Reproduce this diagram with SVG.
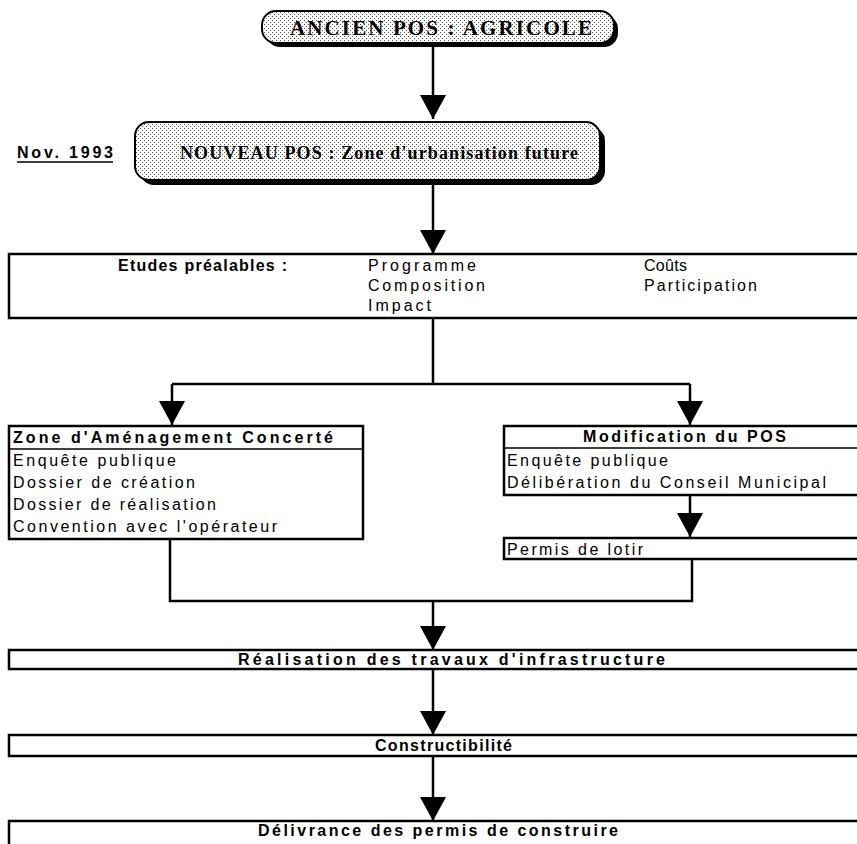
<svg xmlns="http://www.w3.org/2000/svg" width="857" height="844" viewBox="0 0 857 844">
<defs>
<pattern id="dots" width="4" height="4" patternUnits="userSpaceOnUse">
<rect width="4" height="4" fill="#ffffff"/>
<rect x="0" y="0" width="1" height="1" fill="#555"/>
<rect x="2" y="2" width="1" height="1" fill="#555"/>
</pattern>
<marker id="ah" markerWidth="24" markerHeight="26" refX="24" refY="13" orient="auto" markerUnits="userSpaceOnUse" viewBox="0 0 24 26">
<path d="M0,0 L24,13 L0,26 Z" fill="#000"/>
</marker>
</defs>
<style>
.box{fill:#fff;stroke:#000;stroke-width:2.5}
.pill{fill:url(#dots);stroke:#000;stroke-width:2}
.sh{fill:#000}
.ln{fill:none;stroke:#000;stroke-width:2.5}
.t{font-family:"Liberation Sans",Arial,sans-serif;font-size:16px;fill:#000}
.b{font-weight:bold}
.s{font-family:"Liberation Serif","Times New Roman",serif;font-size:21px;font-weight:bold;fill:#000}
.s2{font-size:18px}
</style>

<g id="connectors">
<path class="ln" d="M433,46 V119" marker-end="url(#ah)"/>
<path class="ln" d="M433,184 V254" marker-end="url(#ah)"/>
<path class="ln" d="M433,318 V384 M172,384 H690"/>
<path class="ln" d="M172,384 V425" marker-end="url(#ah)"/>
<path class="ln" d="M690,384 V425" marker-end="url(#ah)"/>
<path class="ln" d="M690,495 V537" marker-end="url(#ah)"/>
<path class="ln" d="M170,539 V601 H692 V559"/>
<path class="ln" d="M433,601 V650" marker-end="url(#ah)"/>
<path class="ln" d="M433,669 V735" marker-end="url(#ah)"/>
<path class="ln" d="M433,756 V821" marker-end="url(#ah)"/>
</g>

<g id="ancien">
<rect class="sh" x="266" y="15" width="352" height="32" rx="14"/>
<rect class="pill" x="262" y="11" width="352" height="32" rx="14"/>
<text class="s" x="290" y="35" textLength="302" lengthAdjust="spacing">ANCIEN POS : AGRICOLE</text>
</g>

<g id="date">
<text class="t b" x="17" y="158" textLength="96" lengthAdjust="spacing">Nov. 1993</text>
<line x1="17" y1="162" x2="113" y2="162" stroke="#000" stroke-width="1.5"/>
</g>

<g id="nouveau">
<rect class="sh" x="140" y="127" width="465" height="58" rx="14"/>
<rect class="pill" x="135" y="122" width="465" height="58" rx="14"/>
<text class="s s2" x="180" y="159" textLength="398" lengthAdjust="spacing">NOUVEAU POS : Zone d'urbanisation future</text>
</g>

<g id="etudes">
<rect class="box" x="9" y="254" width="860" height="64"/>
<text class="t b" x="118" y="271" textLength="169" lengthAdjust="spacing">Etudes préalables :</text>
<text class="t" x="368" y="271" textLength="108" lengthAdjust="spacing">Programme</text>
<text class="t" x="644" y="271" textLength="43" lengthAdjust="spacing">Coûts</text>
<text class="t" x="368" y="291" textLength="117" lengthAdjust="spacing">Composition</text>
<text class="t" x="644" y="291" textLength="113" lengthAdjust="spacing">Participation</text>
<text class="t" x="368" y="311" textLength="63" lengthAdjust="spacing">Impact</text>
</g>

<g id="zac">
<rect class="box" x="9" y="426" width="354" height="113"/>
<line x1="9" y1="449" x2="363" y2="449" stroke="#000" stroke-width="1.5"/>
<text class="t b" x="13" y="443" textLength="320" lengthAdjust="spacing">Zone d'Aménagement Concerté</text>
<text class="t" x="13" y="466" textLength="163" lengthAdjust="spacing">Enquête publique</text>
<text class="t" x="13" y="488" textLength="182" lengthAdjust="spacing">Dossier de création</text>
<text class="t" x="13" y="510" textLength="203" lengthAdjust="spacing">Dossier de réalisation</text>
<text class="t" x="13" y="532" textLength="264" lengthAdjust="spacing">Convention avec l'opérateur</text>
</g>

<g id="modif">
<rect class="box" x="504" y="426" width="365" height="69"/>
<line x1="504" y1="448" x2="869" y2="448" stroke="#000" stroke-width="1.5"/>
<text class="t b" x="583" y="442" textLength="203" lengthAdjust="spacing">Modification du POS</text>
<text class="t" x="507" y="466" textLength="161" lengthAdjust="spacing">Enquête publique</text>
<text class="t" x="507" y="488" textLength="319" lengthAdjust="spacing">Délibération du Conseil Municipal</text>
</g>

<g id="lotir">
<rect class="box" x="504" y="538" width="365" height="21"/>
<text class="t" x="507" y="555" textLength="136" lengthAdjust="spacing">Permis de lotir</text>
</g>

<g id="travaux">
<rect class="box" x="9" y="650" width="860" height="19"/>
<text class="t b" x="238" y="665" textLength="427" lengthAdjust="spacing">Réalisation des travaux d'infrastructure</text>
</g>

<g id="constructibilite">
<rect class="box" x="9" y="735" width="860" height="21"/>
<text class="t b" x="375" y="751" textLength="137" lengthAdjust="spacing">Constructibilité</text>
</g>

<g id="delivrance">
<rect class="box" x="9" y="821" width="860" height="40"/>
<text class="t b" x="258" y="836" textLength="360" lengthAdjust="spacing">Délivrance des permis de construire</text>
</g>
</svg>
